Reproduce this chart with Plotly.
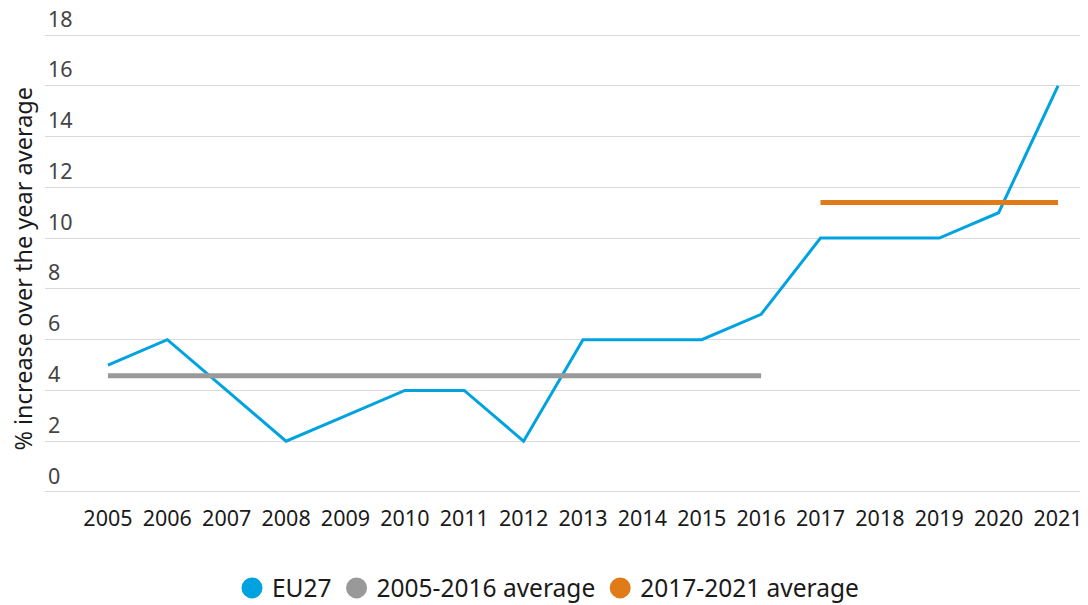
import plotly.graph_objects as go

years = list(range(2005, 2022))
eu27 = [5, 6, 4, 2, 3, 4, 4, 2, 6, 6, 6, 7, 10, 10, 10, 11, 16]
avg1_years = [2005, 2016]
avg1_value = 4.58
avg2_years = [2017, 2021]
avg2_value = 11.4
y_ticks = [0, 2, 4, 6, 8, 10, 12, 14, 16, 18]

BLUE = "#00A3E0"
GRAY = "#999999"
ORANGE = "#E07B1A"
FONT = "Noto Sans"
TXT = "#1a1a1a"

fig = go.Figure()
fig.add_trace(go.Scatter(x=years, y=eu27, mode="lines", line=dict(color=BLUE, width=3),
                         showlegend=False, hoverinfo="skip"))
fig.add_trace(go.Scatter(x=avg1_years, y=[avg1_value] * 2, mode="lines",
                         line=dict(color=GRAY, width=5), showlegend=False))
fig.add_trace(go.Scatter(x=avg2_years, y=[avg2_value] * 2, mode="lines",
                         line=dict(color=ORANGE, width=5), showlegend=False))
for name, col in [("EU27", BLUE), ("2005-2016 average", GRAY), ("2017-2021 average", ORANGE)]:
    fig.add_trace(go.Scatter(x=[None], y=[None], mode="markers", name=name,
                             marker=dict(color=col, size=16, symbol="circle",
                                         line=dict(color=col, width=7))))

# page body has an 8px margin, so the figure is 8px smaller than the window
fig.update_layout(
    width=1080, height=597,
    margin=dict(l=37, r=0, t=26, b=112),
    paper_bgcolor="white", plot_bgcolor="white",
    font=dict(family=FONT, size=21.5, color=TXT),
    showlegend=True,
    legend=dict(orientation="h", xref="container", yref="container", x=0.5, xanchor="center",
                y=0.0285, yanchor="middle", font=dict(size=24.5), itemsizing="trace",
                itemwidth=30, tracegroupgap=0),
    xaxis=dict(range=[2003.94, 2021.505], tickmode="array", tickvals=years,
               ticktext=[str(y) for y in years], showgrid=False, zeroline=False,
               showline=False, ticks="", tickfont=dict(size=21.5), automargin=False,
               ticklabelstandoff=10),
    yaxis=dict(range=[-0.04, 18.04], tickmode="array", tickvals=y_ticks,
               ticktext=[str(v) for v in y_ticks], showgrid=True, gridcolor="#d9d9d9",
               gridwidth=1.3, zeroline=False, showline=False, ticks="",
               ticklabelposition="inside", ticklabelshift=-16, ticklabeloverflow="allow",
               tickfont=dict(size=21.5), automargin=False),
    annotations=[dict(text="% increase over the year average", xref="paper", yref="paper",
                      x=-0.022, y=0.489, xanchor="center", yanchor="middle",
                      textangle=-90, showarrow=False, font=dict(size=23.5, color=TXT))],
)

fig.write_html("out.html")
